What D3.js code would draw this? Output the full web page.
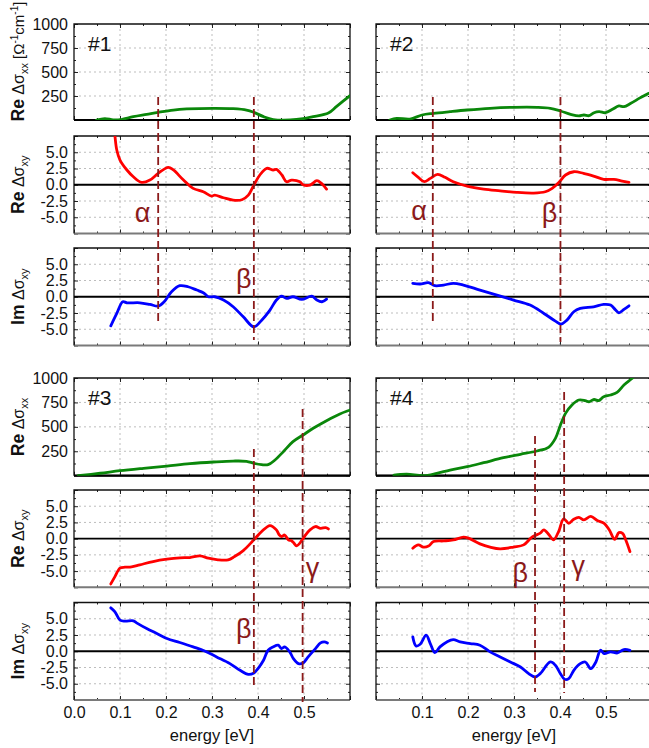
<!DOCTYPE html>
<html><head><meta charset="utf-8">
<script src="https://cdn.jsdelivr.net/npm/d3@7"></script>
<style>
body{margin:0;background:#fff}
svg{display:block;overflow:hidden}
text{font-family:"Liberation Sans",Arial,sans-serif}
</style>
</head><body>
<svg id="c" width="649" height="748"></svg>
<script>
// ---------------- DATA ----------------
const sampleNames = ["#1", "#2", "#3", "#4"];
const xTickValues = [0, 0.1, 0.2, 0.3, 0.4, 0.5];
const xxTickValues = [250, 500, 750, 1000];
const xyTickValues = [-5, -2.5, 0, 2.5, 5];

// sample #1
const s1_reXX = [[0.049,0],[0.067,15],[0.085,2],[0.10,3],[0.129,35],[0.158,59],[0.183,80],[0.216,104],[0.245,115],[0.303,122],[0.346,118],[0.375,104],[0.391,80],[0.412,35],[0.433,5],[0.470,0],[0.498,13],[0.52,35],[0.553,73],[0.571,142],[0.60,253]];
const s1_reXY = [[0.086,9.5],[0.089,7.5],[0.093,5.35],[0.10,3.8],[0.115,2.27],[0.129,1.23],[0.147,0.37],[0.165,0.72],[0.183,1.76],[0.205,2.68],[0.216,2.27],[0.238,0.72],[0.259,-0.56],[0.281,-1.08],[0.299,-1.74],[0.306,-1.6],[0.325,-2.0],[0.346,-2.36],[0.365,-2.3],[0.379,-1.59],[0.391,-0.05],[0.404,1.5],[0.419,2.53],[0.433,2.27],[0.44,2.37],[0.452,1.5],[0.462,0.47],[0.473,0.72],[0.491,0.47],[0.498,0],[0.513,-0.05],[0.528,0.62],[0.538,0.2],[0.549,-0.67]];
const s1_imXY = [[0.080,-4.47],[0.093,-2.57],[0.106,-0.77],[0.115,-0.93],[0.143,-0.93],[0.165,-1.18],[0.183,-1.44],[0.196,-0.77],[0.212,0.77],[0.230,1.7],[0.248,1.54],[0.267,1.03],[0.281,0.62],[0.292,0],[0.306,0],[0.325,-0.51],[0.346,-1.54],[0.368,-3.09],[0.391,-4.63],[0.408,-3.6],[0.426,-2.05],[0.440,-0.51],[0.451,0.1],[0.462,-0.26],[0.476,0],[0.495,-0.41],[0.517,0.1],[0.528,-0.51],[0.539,-0.77],[0.549,-0.36]];
const s1_marks = [["α", 0.183], ["β", 0.391]];

// sample #2
const s2_reXX = [[0.030,0],[0.045,17],[0.074,10],[0.10,52],[0.125,69],[0.161,87],[0.198,104],[0.248,122],[0.299,132],[0.350,132],[0.379,122],[0.401,94],[0.423,59],[0.441,42],[0.452,52],[0.463,45],[0.474,76],[0.485,87],[0.499,76],[0.514,111],[0.528,146],[0.539,139],[0.554,174],[0.575,233],[0.593,278],[0.61,310]];
const s2_reXY = [[0.080,1.85],[0.092,1.14],[0.105,0.47],[0.118,0.98],[0.134,1.6],[0.150,1.14],[0.168,0.47],[0.198,-0.2],[0.234,-0.66],[0.270,-0.93],[0.306,-1.18],[0.343,-1.28],[0.368,-1.08],[0.383,-0.56],[0.397,0.31],[0.412,1.5],[0.430,2.0],[0.451,1.76],[0.473,1.34],[0.495,0.83],[0.517,0.83],[0.535,0.57],[0.550,0.37]];
const s2_imXY = [[0.080,2.07],[0.096,1.96],[0.114,2.17],[0.128,1.7],[0.147,1.8],[0.168,2.07],[0.190,1.8],[0.226,1.03],[0.263,0.26],[0.299,-0.51],[0.335,-1.28],[0.365,-2.57],[0.390,-3.75],[0.402,-4.21],[0.415,-3.6],[0.430,-2.31],[0.444,-1.8],[0.473,-1.54],[0.495,-1.18],[0.510,-1.28],[0.521,-2.05],[0.528,-2.47],[0.539,-1.95],[0.550,-1.39]];
const s2_marks = [["α", 0.1235], ["β", 0.401]];

// sample #3
const s3_reXX = [[0.009,0],[0.057,25],[0.10,51],[0.151,76],[0.202,99],[0.252,123],[0.303,140],[0.346,150],[0.375,147],[0.391,127],[0.408,113],[0.422,113],[0.437,161],[0.455,246],[0.476,348],[0.498,417],[0.520,485],[0.549,563],[0.578,632],[0.60,672],[0.61,690]];
const s3_reXY = [[0.080,-6.98],[0.089,-5.85],[0.10,-4.55],[0.111,-4.4],[0.125,-4.35],[0.143,-4.04],[0.172,-3.53],[0.202,-3.17],[0.230,-2.96],[0.252,-2.91],[0.274,-2.65],[0.292,-3.01],[0.313,-3.27],[0.335,-3.27],[0.349,-2.76],[0.368,-1.84],[0.391,-0.18],[0.408,1.1],[0.426,2.02],[0.440,1.36],[0.446,0.6],[0.451,0.33],[0.458,0.56],[0.466,-0.18],[0.472,-0.3],[0.477,-0.6],[0.484,-1.1],[0.495,-0.3],[0.502,0.43],[0.513,1.36],[0.525,1.87],[0.536,1.6],[0.547,1.7],[0.553,1.5]];
const s3_imXY = [[0.080,6.68],[0.089,6.07],[0.10,4.78],[0.111,4.63],[0.129,4.68],[0.136,4.37],[0.158,3.5],[0.180,2.73],[0.202,1.96],[0.230,1.34],[0.259,0.67],[0.284,0.05],[0.310,-0.87],[0.339,-1.9],[0.361,-2.93],[0.379,-3.55],[0.391,-3.34],[0.400,-2.67],[0.412,-1.39],[0.422,0.15],[0.433,0.67],[0.444,0.93],[0.451,0.41],[0.458,0.67],[0.469,-0.1],[0.477,-1.13],[0.488,-1.9],[0.498,-1.8],[0.509,-0.87],[0.525,0.41],[0.536,1.28],[0.544,1.44],[0.551,1.28]];
const s3_marks = [["β", 0.391], ["γ", 0.497]];

// sample #4
const s4_reXX = [[0.039,7],[0.067,17],[0.103,0],[0.132,24],[0.161,58],[0.198,92],[0.234,133],[0.277,184],[0.314,219],[0.350,253],[0.375,290],[0.390,382],[0.401,519],[0.412,638],[0.426,724],[0.441,775],[0.455,768],[0.463,757],[0.474,780],[0.484,768],[0.495,809],[0.510,826],[0.524,853],[0.539,928],[0.557,997],[0.568,1050]];
const s4_reXY = [[0.080,-1.47],[0.092,-0.96],[0.103,-1.3],[0.114,-1.15],[0.125,-0.45],[0.147,-0.35],[0.168,-0.2],[0.190,0.23],[0.201,0.08],[0.226,-0.8],[0.248,-1.3],[0.270,-1.57],[0.299,-1.3],[0.321,-0.96],[0.339,0.23],[0.357,0.85],[0.365,1.36],[0.376,0.59],[0.386,-0.2],[0.397,1.1],[0.408,3.05],[0.419,2.37],[0.430,3.0],[0.441,3.28],[0.452,2.9],[0.467,3.43],[0.481,2.8],[0.496,2.37],[0.507,1.36],[0.519,-0.1],[0.528,0.93],[0.536,0.8],[0.543,-0.2],[0.552,-1.99]];
const s4_imXY = [[0.080,2.21],[0.087,0.82],[0.096,1.08],[0.109,2.47],[0.118,1.18],[0.128,-0.2],[0.139,0.67],[0.154,1.44],[0.168,1.8],[0.183,1.44],[0.205,1.18],[0.226,0.93],[0.248,-0.1],[0.270,-0.87],[0.292,-1.65],[0.314,-2.42],[0.332,-3.45],[0.346,-3.96],[0.357,-3.45],[0.379,-1.65],[0.390,-2.16],[0.401,-3.45],[0.410,-4.32],[0.419,-4.22],[0.430,-2.93],[0.444,-1.9],[0.455,-1.65],[0.467,-2.67],[0.478,-1.65],[0.488,0.15],[0.496,-0.36],[0.510,-0.1],[0.525,-0.26],[0.539,0.26],[0.552,0.15]];
const s4_marks = [["β", 0.3457], ["γ", 0.409]];

// ---------------- LAYOUT ----------------
const colX = [[74, 350], [376, 652]];
const groupRows = [
  [[24, 120], [136, 233.5], [248, 345.5]],
  [[378, 475.7], [490, 587.3], [602.5, 700]]
];
const COLORS = {xx: "#0a870a", re: "#ff0000", im: "#0000ff", mark: "#8b1a1a"};

const samples = [
  {name: sampleNames[0], col: 0, grp: 0, series: [s1_reXX, s1_reXY, s1_imXY], marks: s1_marks,
   lines: [[97, 325], [97, 340]], ann: [{dx: -15.6, y: 222}, {dx: -10, y: 288}]},
  {name: sampleNames[1], col: 1, grp: 0, series: [s2_reXX, s2_reXY, s2_imXY], marks: s2_marks,
   lines: [[97, 325], [97, 342]], ann: [{dx: -13.7, y: 220}, {dx: -11, y: 222}]},
  {name: sampleNames[2], col: 0, grp: 1, series: [s3_reXX, s3_reXY, s3_imXY], marks: s3_marks,
   lines: [[449, 688], [409, 702]], ann: [{dx: -10, y: 638}, {dx: 10, y: 577}]},
  {name: sampleNames[3], col: 1, grp: 1, series: [s4_reXX, s4_reXY, s4_imXY], marks: s4_marks,
   lines: [[436, 692], [392, 693]], ann: [{dx: -14.7, y: 582}, {dx: 14, y: 575}]}
];

const svg = d3.select("#c");
const defs = svg.append("defs");
let clipId = 0;

function drawPanel(s, rowIdx) {
  const [x0, x1] = colX[s.col];
  const [yTop, yBot] = groupRows[s.grp][rowIdx];
  const isXX = rowIdx === 0;
  const x = d3.scaleLinear().domain([0, 0.6]).range([x0, x1]);
  const y = d3.scaleLinear().domain(isXX ? [0, 1000] : [-7.5, 7.5]).range([yBot, yTop]);
  const g = svg.append("g");

  // grid
  const gridX = [0.1, 0.2, 0.3, 0.4, 0.5];
  const gridY = isXX ? [250, 500, 750] : [-5, -2.5, 2.5, 5];
  g.selectAll(".gx").data(gridX).join("line")
    .attr("x1", d => x(d)).attr("x2", d => x(d)).attr("y1", yTop).attr("y2", yBot)
    .attr("stroke", "#bdbdbd").attr("stroke-width", 1).attr("stroke-dasharray", "2,3");
  g.selectAll(".gy").data(gridY).join("line")
    .attr("x1", x0).attr("x2", x1).attr("y1", d => y(d)).attr("y2", d => y(d))
    .attr("stroke", "#bdbdbd").attr("stroke-width", 1).attr("stroke-dasharray", "2,3");

  // ticks with d3 axes (inward)
  const xMajor = [0, 0.1, 0.2, 0.3, 0.4, 0.5, 0.6];
  const xMinor = [0.05, 0.15, 0.25, 0.35, 0.45, 0.55];
  const yMajor = isXX ? [0, 250, 500, 750, 1000] : [-7.5, -5, -2.5, 0, 2.5, 5, 7.5];
  const yMinor = isXX ? [125, 375, 625, 875] : [-6.25, -3.75, -1.25, 1.25, 3.75, 6.25];
  const tickStyle = sel => { sel.select(".domain").remove(); sel.selectAll("line").attr("stroke", "#222"); sel.selectAll("text").remove(); };
  g.append("g").attr("transform", `translate(0,${yBot})`).call(d3.axisBottom(x).tickValues(xMajor).tickSize(-4)).call(tickStyle);
  g.append("g").attr("transform", `translate(0,${yBot})`).call(d3.axisBottom(x).tickValues(xMinor).tickSize(-2)).call(tickStyle);
  g.append("g").attr("transform", `translate(0,${yTop})`).call(d3.axisTop(x).tickValues(xMajor).tickSize(-4)).call(tickStyle);
  g.append("g").attr("transform", `translate(0,${yTop})`).call(d3.axisTop(x).tickValues(xMinor).tickSize(-2)).call(tickStyle);
  g.append("g").attr("transform", `translate(${x0},0)`).call(d3.axisLeft(y).tickValues(yMajor).tickSize(-4)).call(tickStyle);
  g.append("g").attr("transform", `translate(${x0},0)`).call(d3.axisLeft(y).tickValues(yMinor).tickSize(-2)).call(tickStyle);
  g.append("g").attr("transform", `translate(${x1},0)`).call(d3.axisRight(y).tickValues(yMajor).tickSize(-4)).call(tickStyle);
  g.append("g").attr("transform", `translate(${x1},0)`).call(d3.axisRight(y).tickValues(yMinor).tickSize(-2)).call(tickStyle);

  // y tick labels (left column only)
  if (s.col === 0) {
    const ax = d3.axisLeft(y).tickValues(isXX ? xxTickValues : xyTickValues)
      .tickSize(0).tickPadding(6)
      .tickFormat(d => isXX ? String(d) : d.toFixed(1));
    const ag = g.append("g").attr("transform", `translate(${x0},0)`).call(ax);
    ag.select(".domain").remove();
    ag.selectAll("text").attr("font-size", 16).attr("fill", "#111")
      .attr("font-family", '"Liberation Sans", Arial, sans-serif');
  }
  // x tick labels (bottom row only)
  if (rowIdx === 2 && s.grp === 1) {
    const vals = s.col === 0 ? xTickValues : xTickValues.filter(v => v > 0);
    const ax = d3.axisBottom(x).tickValues(vals).tickSize(0).tickPadding(6.5).tickFormat(d => d.toFixed(1));
    const ag = g.append("g").attr("transform", `translate(0,${yBot})`).call(ax);
    ag.select(".domain").remove();
    ag.selectAll("text").attr("font-size", 16).attr("fill", "#111")
      .attr("font-family", '"Liberation Sans", Arial, sans-serif');
    svg.append("text").attr("x", (x0 + x1) / 2).attr("y", 740.5)
      .attr("text-anchor", "middle").attr("font-size", 16.5).attr("fill", "#111").text("energy [eV]");
  }

  // frame
  g.append("line").attr("x1", x0).attr("x2", x1).attr("y1", yBot).attr("y2", yBot)
    .attr("stroke", "#7a7a7a").attr("stroke-width", 2);
  g.append("path").attr("d", `M${x0},${yBot}V${yTop}H${x1}V${yBot}`)
    .attr("fill", "none").attr("stroke", "#111").attr("stroke-width", 1.3);
  // zero line
  g.append("line").attr("x1", x0).attr("x2", x1).attr("y1", y(0)).attr("y2", y(0))
    .attr("stroke", "#000").attr("stroke-width", isXX ? 2.2 : 1.8);

  // data curve
  const id = "clip" + (clipId++);
  defs.append("clipPath").attr("id", id).append("rect")
    .attr("x", x0).attr("y", yTop).attr("width", x1 - x0).attr("height", yBot - yTop);
  const line = d3.line().x(d => x(d[0])).y(d => y(d[1])).curve(d3.curveCatmullRom.alpha(0.5));
  const col = [COLORS.xx, COLORS.re, COLORS.im][rowIdx];
  g.append("path").attr("clip-path", `url(#${id})`).attr("d", line(s.series[rowIdx]))
    .attr("fill", "none").attr("stroke", col).attr("stroke-width", 2.8)
    .attr("stroke-linejoin", "round").attr("stroke-linecap", "round");

  return x;
}

function yTitle(xb, yc, anchor, isRe, isXX, withUnit) {
  const t = svg.append("text").attr("transform", `translate(${xb},${yc}) rotate(-90)`)
    .attr("text-anchor", anchor).attr("fill", "#111");
  t.append("tspan").attr("font-weight", "bold").attr("font-size", 17.5).text(isRe ? "Re" : "Im");
  t.append("tspan").attr("font-size", 16).text(" Δσ");
  t.append("tspan").attr("font-size", 11).attr("dy", 4).text(isXX ? "xx" : "xy");
  if (withUnit) {
    t.append("tspan").attr("font-size", 15).attr("dy", -4).text(" [Ω");
    t.append("tspan").attr("font-size", 10).attr("dy", -6).text("-1");
    t.append("tspan").attr("font-size", 15).attr("dy", 6).text("cm");
    t.append("tspan").attr("font-size", 10).attr("dy", -6).text("-1");
    t.append("tspan").attr("font-size", 15).attr("dy", 6).text("]");
  }
}

samples.forEach(s => {
  let xs;
  [0, 1, 2].forEach(r => { xs = drawPanel(s, r); });
  // dashed markers + labels
  s.marks.forEach((m, i) => {
    const [ya, yb] = s.lines[i];
    svg.append("line").attr("x1", xs(m[1])).attr("x2", xs(m[1])).attr("y1", ya).attr("y2", yb)
      .attr("stroke", COLORS.mark).attr("stroke-width", 1.8).attr("stroke-dasharray", "8,4");
    svg.append("text").attr("x", xs(m[1]) + s.ann[i].dx).attr("y", s.ann[i].y)
      .attr("text-anchor", "middle").attr("fill", COLORS.mark)
      .attr("font-family", '"Liberation Serif", "DejaVu Serif", serif').attr("font-size", 27).text(m[0]);
  });
  // sample label
  const [x0] = colX[s.col];
  const yTop = groupRows[s.grp][0][0];
  svg.append("text").attr("x", x0 + 14).attr("y", yTop + 26.5).attr("font-size", 21).attr("fill", "#111").text(s.name);
});

// y-axis titles (left column)
yTitle(23.5, 121.5, "start", true, true, true);
yTitle(23.5, 184.7, "middle", true, false, false);
yTitle(23.5, 296.7, "middle", false, false, false);
yTitle(23.5, 427, "middle", true, true, false);
yTitle(23.5, 538.7, "middle", true, false, false);
yTitle(23.5, 651.2, "middle", false, false, false);
</script>
</body></html>
